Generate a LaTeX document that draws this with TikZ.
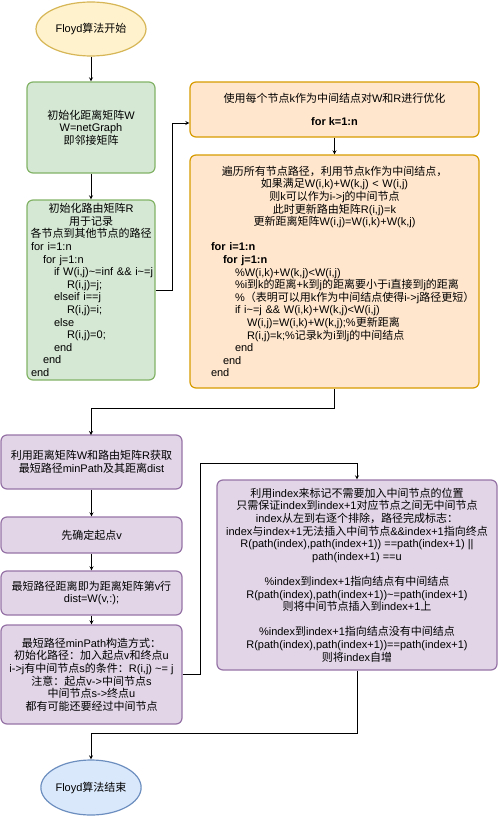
\documentclass[tikz,border=0pt]{standalone}
\usepackage{fontspec}
\setmainfont{Liberation Sans}
\newfontfamily\latinfont{Liberation Sans}
\newfontfamily\cjkfont{Noto Sans CJK SC}
\usetikzlibrary{shapes.geometric}
\newcount\cjkchar
\def\setcharclass#1#2#3{\cjkchar=#1\relax
  \loop\XeTeXcharclass\cjkchar=#3\relax
  \ifnum\cjkchar<#2\relax\advance\cjkchar by 1\relax\repeat}
\setcharclass{"0020}{"2FFF}{0}
\setcharclass{"3000}{"303F}{10}
\setcharclass{"4E00}{"9FFF}{10}
\setcharclass{"FF00}{"FFEF}{10}
\XeTeXinterchartokenstate=1
\XeTeXinterchartoks 0 10 = {\cjkfont}
\XeTeXinterchartoks 4095 10 = {\cjkfont}
\XeTeXinterchartoks 10 0 = {\latinfont}
\XeTeXinterchartoks 10 4095 = {\latinfont}
\definecolor{yfill}{HTML}{FFF2CC}
\definecolor{yline}{HTML}{D6B656}
\definecolor{gfill}{HTML}{D5E8D4}
\definecolor{gline}{HTML}{82B366}
\definecolor{ofill}{HTML}{FFE6CC}
\definecolor{oline}{HTML}{D79B00}
\definecolor{pfill}{HTML}{E1D5E7}
\definecolor{pline}{HTML}{9673A6}
\definecolor{bfill}{HTML}{DAE8FC}
\definecolor{bline}{HTML}{6C8EBF}

\begin{document}
\begin{tikzpicture}[x=1pt,y=-1pt,>=stealth,
    box/.style={draw,line width=1.2pt,rounded corners=6pt,inner sep=0pt,align=center,
      font=\fontsize{11}{12.6}\selectfont},
    greenbox/.style={box,fill=gfill,draw=gline,minimum width=128pt},
    orangebox/.style={box,fill=ofill,draw=oline,minimum width=289pt},
    purplebox/.style={box,fill=pfill,draw=pline,minimum width=181pt},
    terminal/.style={ellipse,draw,line width=1.2pt,inner sep=0pt,
      font=\fontsize{11}{12.6}\selectfont},
    link/.style={->,line width=0.8pt}]
  \useasboundingbox (0,0) rectangle (500,816);

  \node[terminal,fill=yfill,draw=yline,minimum width=110pt,minimum height=54pt] (start) at (91,29) {Floyd算法开始};
  \node[greenbox,minimum height=91pt] (initW) at (91,127.5) {初始化距离矩阵W\\W=netGraph\\即邻接矩阵};
  \node[greenbox,minimum height=180pt,text width=126pt,align=left] (initR) at (91,290) {%
    \makebox[\linewidth]{初始化路由矩阵R}\\
    \makebox[\linewidth]{用于记录}\\
    \makebox[\linewidth]{各节点到其他节点的路径}\\
    \hspace*{3pt}for i=1:n\\
    \hspace*{15pt}for j=1:n\\
    \hspace*{26pt}\mbox{if W(i,j)\textasciitilde=inf \&\& i\textasciitilde=j}\\
    \hspace*{39pt}R(i,j)=j;\\
    \hspace*{26pt}elseif i==j\\
    \hspace*{39pt}R(i,j)=i;\\
    \hspace*{26pt}else\\
    \hspace*{39pt}R(i,j)=0;\\
    \hspace*{26pt}end\\
    \hspace*{15pt}end\\
    \hspace*{3pt}end};

  \node[orangebox,minimum height=55pt] (kloop) at (334.5,109.5) {使用每个节点k作为中间结点对W和R进行优化\\[10.5pt]\textbf{for k=1:n}};
  \node[orangebox,minimum height=233pt,text width=266pt,align=left] (update) at (334.5,271.5) {%
    \makebox[\linewidth]{遍历所有节点路径，利用节点k作为中间结点，}\\
    \makebox[\linewidth]{如果满足W(i,k)+W(k,j) < W(i,j)}\\
    \makebox[\linewidth]{则k可以作为i->j的中间节点}\\
    \makebox[\linewidth]{此时更新路由矩阵R(i,j)=k}\\
    \makebox[\linewidth]{更新距离矩阵W(i,j)=W(i,k)+W(k,j)}\\
    \mbox{}\\
    \hspace*{9.5pt}\textbf{for i=1:n}\\
    \hspace*{21.5pt}\textbf{for j=1:n}\\
    \hspace*{33.5pt}\%W(i,k)+W(k,j)<W(i,j)\\
    \hspace*{33.5pt}\mbox{\%i到k的距离+k到j的距离要小于i直接到j的距离}\\
    \hspace*{33.5pt}\mbox{\%（表明可以用k作为中间结点使得i->j路径更短）}\\
    \hspace*{33.5pt}\mbox{if i\textasciitilde=j \&\& W(i,k)+W(k,j)<W(i,j)}\\
    \hspace*{45.5pt}\mbox{W(i,j)=W(i,k)+W(k,j);\%更新距离}\\
    \hspace*{45.5pt}\mbox{R(i,j)=k;\%记录k为i到j的中间结点}\\
    \hspace*{33.5pt}end\\
    \hspace*{21.5pt}end\\
    \hspace*{9.5pt}end};

  \node[purplebox,minimum height=54pt] (getpath) at (91.5,462) {利用距离矩阵W和路由矩阵R获取\\最短路径minPath及其距离dist};
  \node[purplebox,minimum height=36pt] (setv) at (91.5,535) {先确定起点v};
  \node[purplebox,minimum height=44pt] (dist) at (91.5,593) {最短路径距离即为距离矩阵第v行\\dist=W(v,:);};
  \node[purplebox,minimum height=99pt] (build) at (91.5,674.5) {最短路径minPath构造方式：\\初始化路径：加入起点v和终点u\\i->j有中间节点s的条件：R(i,j) \textasciitilde= j\\注意：起点v->中间节点s\\中间节点s->终点u\\都有可能还要经过中间节点};
  \node[purplebox,minimum width=280pt,minimum height=190pt] (index) at (357,575) {利用index来标记不需要加入中间节点的位置\\
    只需保证index到index+1对应节点之间无中间节点\\
    index从左到右逐个排除，路径完成标志：\\
    index与index+1无法插入中间节点\&\&index+1指向终点\\
    R(path(index),path(index+1)) ==path(index+1) ||\\
    path(index+1) ==u\\[12.6pt]
    \%index到index+1指向结点有中间结点\\
    R(path(index),path(index+1))\textasciitilde=path(index+1)\\
    则将中间节点插入到index+1上\\[12.6pt]
    \%index到index+1指向结点没有中间结点\\
    R(path(index),path(index+1))==path(index+1)\\
    则将index自增};
  \node[terminal,fill=bfill,draw=bline,minimum width=92pt,minimum height=55pt] (finish) at (91,787.5) {Floyd算法结束};

  \coordinate (indexin) at (357,463);
  \draw[link] (start) -- (initW);
  \draw[link] (initW) -- (initR);
  \draw[link] (initR.east) -- ++(17,0) |- ([yshift=-13.5pt]kloop.west);
  \draw[link] (kloop) -- (update);
  \draw[link] (update.south) -- ++(0,20) -| (91,435);
  \draw[link] (getpath) -- (setv);
  \draw[link] (setv) -- (dist);
  \draw[link] (dist) -- (build);
  \draw[link] (build.east) -- ++(18,0) |- (indexin) -- (index.north);
  \draw[link] (index.south) -- ++(0,63) -| (finish.north);
\end{tikzpicture}
\end{document}
